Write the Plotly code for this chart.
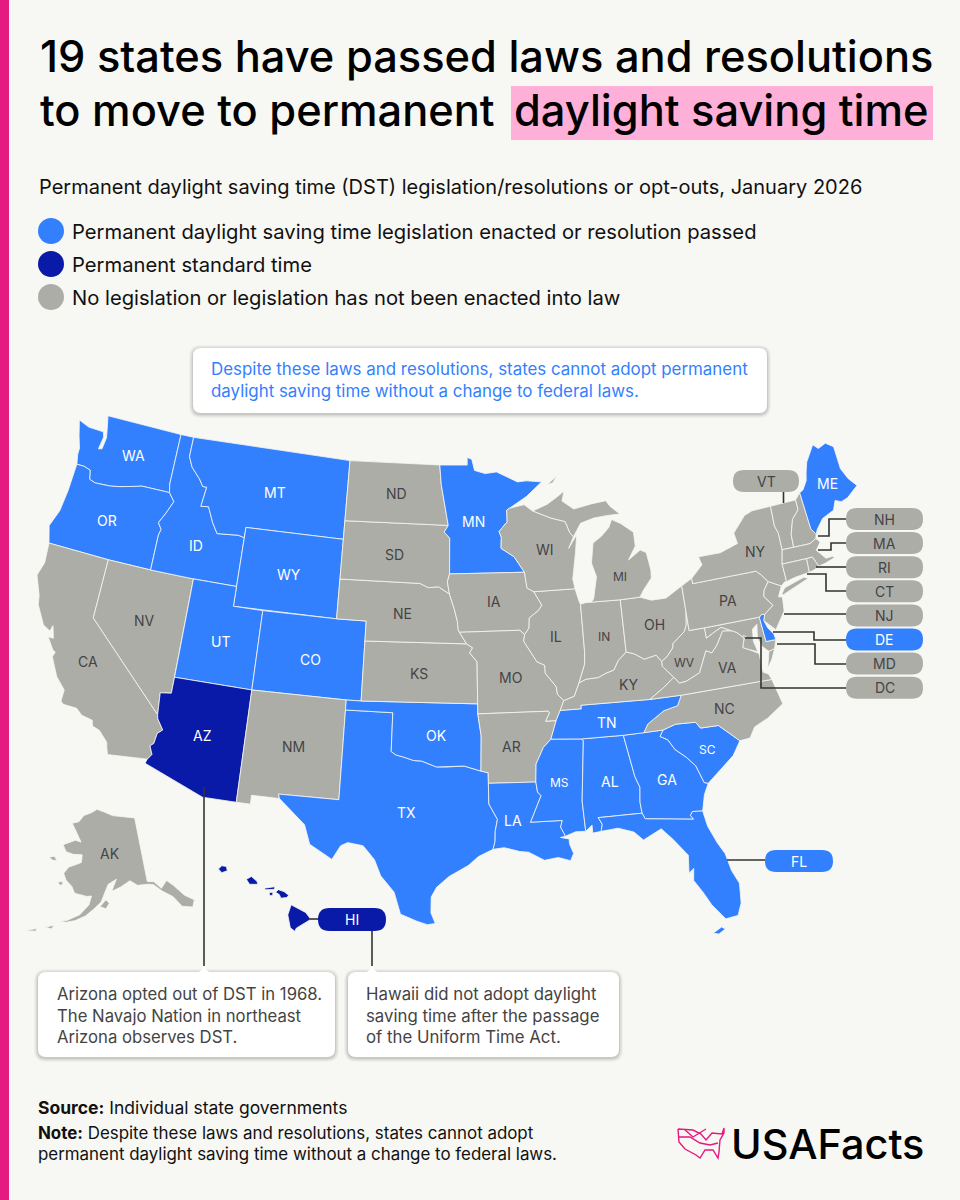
import math
import plotly.graph_objects as go

BG = "#f7f7f3"
BLUE = "#3380ff"
NAVY = "#0a1aa8"
GREY = "#adada8"
INK = "#444444"
FONT = "Inter"

TITLE_1 = "19 states have passed laws and resolutions"
TITLE_2 = "to move to permanent"
TITLE_3 = "daylight saving time"
SUBTITLE = "Permanent daylight saving time (DST) legislation/resolutions or opt-outs, January 2026"
LEGEND = [
    "Permanent daylight saving time legislation enacted or resolution passed",
    "Permanent standard time",
    "No legislation or legislation has not been enacted into law",
]
TOP_NOTE = [
    "Despite these laws and resolutions, states cannot adopt permanent",
    "daylight saving time without a change to federal laws.",
]
AZ_NOTE = ["Arizona opted out of DST in 1968.", "The Navajo Nation in northeast", "Arizona observes DST."]
HI_NOTE = ["Hawaii did not adopt daylight", "saving time after the passage", "of the Uniform Time Act."]
SOURCE = "<b>Source:</b> Individual state governments"
NOTE = [
    "<b>Note:</b> Despite these laws and resolutions, states cannot adopt",
    "permanent daylight saving time without a change to federal laws.",
]

DST_STATES = ["WA", "OR", "ID", "MT", "WY", "UT", "CO", "MN", "TX", "OK", "TN", "LA", "MS", "AL", "GA", "SC", "FL", "ME", "DE"]
STANDARD_STATES = ["AZ", "HI"]

# state outlines, lon/lat read by eye
STATES = {
    "WA": [[(-117.03,49),(-117.04,46.42),(-116.92,46.0),(-118.98,46.0),(-119.3,45.93),(-120.5,45.7),(-121.2,45.6),(-122.3,45.55),(-122.75,45.65),(-122.9,46.1),(-123.4,46.2),(-123.95,46.2),(-124.1,46.7),(-124.1,47.0),(-124.4,47.6),(-124.73,48.38),(-123.9,48.17),(-123.1,48.15),(-122.75,48.15),(-122.62,47.9),(-122.75,47.25),(-122.5,47.3),(-122.4,47.9),(-122.55,48.4),(-122.75,49)]],
    "OR": [[(-124.21,42),(-120,42),(-117.03,42),(-117.03,43.8),(-116.93,44.1),(-117.22,44.4),(-116.85,44.95),(-116.47,45.6),(-116.92,46.0),(-118.98,46.0),(-119.3,45.93),(-120.5,45.7),(-121.2,45.6),(-122.3,45.55),(-122.75,45.65),(-122.9,46.1),(-123.4,46.2),(-123.95,46.2),(-124.0,44.8),(-124.15,43.7),(-124.55,42.84)]],
    "CA": [[(-124.21,42),(-120,42),(-120,39),(-114.63,35.0),(-114.57,34.8),(-114.14,34.3),(-114.43,34.08),(-114.52,33.55),(-114.72,33.4),(-114.5,33.0),(-114.72,32.72),(-117.12,32.53),(-117.25,32.85),(-117.33,33.12),(-117.93,33.62),(-118.4,33.75),(-118.5,34.03),(-119.2,34.15),(-119.6,34.42),(-120.47,34.45),(-120.65,34.58),(-120.63,35.15),(-121.3,35.7),(-121.9,36.6),(-121.8,36.85),(-122.0,36.95),(-122.5,37.5),(-122.15,37.5),(-122.4,38.1),(-122.5,37.8),(-123.0,38.0),(-123.7,38.9),(-123.82,39.35),(-124.35,40.3),(-124.1,41.0)]],
    "NV": [[(-120,42),(-117.03,42),(-114.04,42),(-114.04,37),(-114.05,36.19),(-114.74,36.1),(-114.63,35.0),(-120,39)]],
    "ID": [[(-117.03,49),(-116.05,49),(-116.05,48.0),(-115.7,47.5),(-115.0,47.0),(-114.65,46.65),(-114.35,46.65),(-114.5,45.65),(-113.95,45.7),(-113.45,44.95),(-113.0,44.45),(-111.5,44.55),(-111.05,44.48),(-111.05,42),(-114.04,42),(-117.03,42),(-117.03,43.8),(-116.93,44.1),(-117.22,44.4),(-116.85,44.95),(-116.47,45.6),(-116.92,46.0),(-117.04,46.42)]],
    "MT": [[(-116.05,49),(-104.05,49),(-104.05,45.94),(-104.05,45),(-111.05,45),(-111.05,44.48),(-111.5,44.55),(-113.0,44.45),(-113.45,44.95),(-113.95,45.7),(-114.5,45.65),(-114.35,46.65),(-114.65,46.65),(-115.0,47.0),(-115.7,47.5),(-116.05,48.0)]],
    "WY": [[(-111.05,45),(-104.05,45),(-104.05,43),(-104.05,41),(-111.05,41),(-111.05,42),(-111.05,44.48)]],
    "UT": [[(-114.04,42),(-111.05,42),(-111.05,41),(-109.05,41),(-109.05,37),(-114.04,37)]],
    "CO": [[(-109.05,41),(-104.05,41),(-102.05,41),(-102.05,40),(-102.05,37),(-103,37),(-109.05,37)]],
    "AZ": [[(-114.04,37),(-109.05,37),(-109.05,31.33),(-111.07,31.33),(-114.81,32.5),(-114.72,32.72),(-114.5,33.0),(-114.72,33.4),(-114.52,33.55),(-114.43,34.08),(-114.14,34.3),(-114.57,34.8),(-114.63,35.0),(-114.74,36.1),(-114.05,36.19)]],
    "NM": [[(-109.05,37),(-103,37),(-103,36.5),(-103,32),(-106.62,32),(-106.53,31.78),(-108.21,31.78),(-108.21,31.33),(-109.05,31.33)]],
    "TX": [[(-103,36.5),(-100,36.5),(-100,34.56),(-99.7,34.4),(-99.2,34.3),(-98.6,34.15),(-98.1,34.13),(-97.2,33.85),(-96.6,33.85),(-95.5,33.9),(-94.48,33.64),(-94.04,33.55),(-94.04,33.02),(-94.04,31.99),(-93.55,31.2),(-93.7,30.6),(-93.72,30.1),(-93.85,29.7),(-94.7,29.35),(-95.3,28.9),(-96.4,28.35),(-97.1,27.8),(-97.4,27.3),(-97.4,26.5),(-97.15,25.96),(-97.6,25.9),(-98.2,26.07),(-99.1,26.4),(-99.5,27.5),(-100.3,28.3),(-100.7,29.1),(-101.4,29.77),(-102.3,29.88),(-102.7,29.7),(-103.15,28.98),(-104.5,29.65),(-104.9,30.6),(-106.53,31.78),(-106.62,32),(-103,32)]],
    "OK": [[(-103,37),(-102.05,37),(-94.62,37),(-94.62,36.5),(-94.43,35.4),(-94.48,33.64),(-95.5,33.9),(-96.6,33.85),(-97.2,33.85),(-98.1,34.13),(-98.6,34.15),(-99.2,34.3),(-99.7,34.4),(-100,34.56),(-100,36.5),(-103,36.5)]],
    "KS": [[(-102.05,40),(-95.3,40),(-94.9,39.8),(-95.1,39.55),(-94.62,39.1),(-94.62,37),(-102.05,37)]],
    "NE": [[(-104.05,43),(-98.5,43),(-97.9,42.8),(-97.2,42.85),(-96.45,42.49),(-96.1,41.7),(-95.9,41.1),(-95.85,40.7),(-95.77,40.58),(-95.3,40),(-102.05,40),(-102.05,41),(-104.05,41)]],
    "SD": [[(-104.05,45.94),(-96.56,45.94),(-96.85,45.6),(-96.45,45.3),(-96.45,43.5),(-96.6,43.1),(-96.45,42.49),(-97.2,42.85),(-97.9,42.8),(-98.5,43),(-104.05,43),(-104.05,45)]],
    "ND": [[(-104.05,49),(-97.23,49),(-97.1,48),(-96.56,45.94),(-104.05,45.94)]],
    "MN": [[(-97.23,49),(-95.15,49),(-95.15,49.38),(-94.8,49.3),(-94.6,48.72),(-93.8,48.55),(-92.95,48.62),(-92,48.3),(-91.4,48.07),(-90.75,48.1),(-89.6,48.0),(-90.8,47.3),(-92.1,46.75),(-92.29,46.66),(-92.29,46.07),(-92.9,45.6),(-92.75,45.3),(-92.8,44.75),(-91.9,44.3),(-91.22,43.5),(-96.45,43.5),(-96.45,45.3),(-96.85,45.6),(-96.56,45.94),(-97.1,48)]],
    "IA": [[(-96.45,43.5),(-91.22,43.5),(-91.1,42.7),(-90.64,42.5),(-90.15,41.8),(-90.4,41.55),(-91.05,41.2),(-91.1,40.7),(-91.42,40.38),(-91.73,40.61),(-95.77,40.58),(-95.85,40.7),(-95.9,41.1),(-96.1,41.7),(-96.45,42.49),(-96.6,43.1)]],
    "MO": [[(-95.77,40.58),(-91.73,40.61),(-91.42,40.38),(-91.5,40.05),(-90.7,39.0),(-90.2,38.8),(-90.2,38.4),(-89.55,37.7),(-89.5,37.3),(-89.13,36.98),(-89.4,36.5),(-89.7,36),(-90.37,36),(-90.1,36.4),(-90.15,36.5),(-94.62,36.5),(-94.62,37),(-94.62,39.1),(-95.1,39.55),(-94.9,39.8),(-95.3,40)]],
    "AR": [[(-94.62,36.5),(-90.15,36.5),(-90.1,36.4),(-90.37,36),(-89.7,36),(-90.1,35.1),(-90.6,34.7),(-91.1,33.9),(-91.17,33),(-94.04,33.02),(-94.04,33.55),(-94.48,33.64),(-94.43,35.4)]],
    "LA": [[(-94.04,33.02),(-91.17,33),(-91.1,32.5),(-90.9,32.3),(-91.6,31.0),(-89.73,31),(-89.85,30.67),(-89.6,30.2),(-89.9,30.15),(-89.4,30.05),(-89.4,29.8),(-89.2,29.3),(-89.4,28.95),(-90.1,29.15),(-90.9,29.05),(-91.8,29.5),(-92.3,29.55),(-93.2,29.77),(-93.85,29.7),(-93.72,30.1),(-93.7,30.6),(-93.55,31.2),(-94.04,31.99)]],
    "MS": [[(-90.1,35.1),(-88.2,35),(-88.1,34.9),(-88.47,31.9),(-88.4,30.37),(-89.0,30.38),(-89.6,30.2),(-89.85,30.67),(-89.73,31),(-91.6,31.0),(-90.9,32.3),(-91.1,32.5),(-91.17,33),(-91.1,33.9),(-90.6,34.7)]],
    "AL": [[(-88.2,35),(-85.6,34.98),(-85.18,32.87),(-84.95,32.3),(-85.05,31.55),(-85,31),(-87.6,31),(-87.4,30.65),(-87.5,30.3),(-88,30.25),(-88.0,30.65),(-88.4,30.37),(-88.47,31.9),(-88.1,34.9)]],
    "GA": [[(-85.6,34.98),(-84.32,34.99),(-83.11,35),(-83.35,34.7),(-82.9,34.48),(-82.55,33.95),(-81.95,33.5),(-81.45,33),(-81.1,32.1),(-80.87,32.03),(-81.2,31.5),(-81.45,30.7),(-82.05,30.75),(-82.2,30.57),(-82.05,30.36),(-84.86,30.7),(-85,31),(-85.05,31.55),(-84.95,32.3),(-85.18,32.87)]],
    "FL": [[(-87.6,31),(-85,31),(-84.86,30.7),(-82.05,30.36),(-82.2,30.57),(-82.05,30.75),(-81.45,30.7),(-81.3,29.9),(-80.9,29),(-80.55,28.4),(-80.35,27.5),(-80.03,26.8),(-80.12,25.8),(-80.4,25.2),(-81.1,25.13),(-81.75,25.95),(-82.1,26.6),(-82.55,27.3),(-82.45,27.9),(-82.75,27.7),(-82.65,28.6),(-83.4,29.5),(-84,30.1),(-85.1,29.65),(-85.6,30.1),(-86.5,30.38),(-87.5,30.3),(-87.4,30.65)],
           [(-81.9,24.5),(-81.4,24.75),(-81.2,24.62),(-81.6,24.42)]],
    "SC": [[(-83.11,35),(-82.3,35.2),(-81.05,35.15),(-80.8,34.82),(-79.68,34.8),(-78.55,33.86),(-79.1,33.2),(-79.9,32.7),(-80.87,32.03),(-81.1,32.1),(-81.45,33),(-81.95,33.5),(-82.55,33.95),(-82.9,34.48),(-83.35,34.7)]],
    "NC": [[(-84.32,34.99),(-83.11,35),(-82.3,35.2),(-81.05,35.15),(-80.8,34.82),(-79.68,34.8),(-78.55,33.86),(-77.9,33.9),(-77.5,34.4),(-76.6,34.7),(-75.5,35.25),(-75.85,36.55),(-81.68,36.59),(-82.0,36.1),(-82.9,35.95),(-84.0,35.4)]],
    "TN": [[(-90.1,35.1),(-89.7,36),(-89.4,36.5),(-88.07,36.5),(-88.07,36.68),(-83.68,36.6),(-81.68,36.59),(-82.0,36.1),(-82.9,35.95),(-84.0,35.4),(-84.32,34.99),(-85.6,34.98),(-88.2,35)]],
    "KY": [[(-89.4,36.5),(-89.13,36.98),(-88.45,37.15),(-88.07,37.8),(-87.6,37.95),(-86.8,37.98),(-86.3,38.15),(-85.75,38.27),(-85.4,38.72),(-84.82,39.1),(-84.3,38.95),(-83.7,38.63),(-82.9,38.75),(-82.6,38.4),(-82.6,38.15),(-81.97,37.53),(-82.7,37.1),(-83.68,36.6),(-88.07,36.68),(-88.07,36.5)]],
    "IL": [[(-90.64,42.5),(-87.8,42.5),(-87.6,41.85),(-87.52,41.7),(-87.53,39.35),(-87.6,38.7),(-88.07,37.8),(-88.45,37.15),(-89.13,36.98),(-89.5,37.3),(-89.55,37.7),(-90.2,38.4),(-90.2,38.8),(-90.7,39.0),(-91.5,40.05),(-91.42,40.38),(-91.1,40.7),(-91.05,41.2),(-90.4,41.55),(-90.15,41.8)]],
    "IN": [[(-87.52,41.7),(-87.2,41.76),(-86.8,41.76),(-84.8,41.72),(-84.82,39.1),(-85.4,38.72),(-85.75,38.27),(-86.3,38.15),(-86.8,37.98),(-87.6,37.95),(-88.07,37.8),(-87.6,38.7),(-87.53,39.35)]],
    "OH": [[(-84.8,41.72),(-83.45,41.73),(-82.7,41.5),(-81.7,41.5),(-80.52,41.98),(-80.52,40.64),(-80.65,40.0),(-80.85,39.7),(-81.7,39.2),(-81.75,39.0),(-82.2,38.6),(-82.6,38.4),(-82.9,38.75),(-83.7,38.63),(-84.3,38.95),(-84.82,39.1)]],
    "WV": [[(-82.6,38.4),(-82.2,38.6),(-81.75,39.0),(-81.7,39.2),(-80.85,39.7),(-80.65,40.0),(-80.52,40.64),(-80.52,39.72),(-79.48,39.72),(-79.48,39.2),(-78.9,39.43),(-78.4,39.6),(-77.72,39.32),(-78.35,39.4),(-78.87,38.77),(-79.3,38.42),(-79.65,38.58),(-80.3,37.55),(-81.22,37.24),(-81.68,37.2),(-81.97,37.53),(-82.6,38.15)]],
    "VA": [[(-83.68,36.6),(-82.7,37.1),(-81.97,37.53),(-81.68,37.2),(-81.22,37.24),(-80.3,37.55),(-79.65,38.58),(-79.3,38.42),(-78.87,38.77),(-78.35,39.4),(-77.72,39.32),(-77.45,39.2),(-77.04,38.85),(-77.25,38.4),(-76.95,38.27),(-76.3,37.95),(-76.3,37.5),(-76.3,37.0),(-75.98,36.85),(-75.85,36.55),(-81.68,36.59)],
           [(-75.95,37.15),(-75.65,37.95),(-75.25,38.03),(-75.6,37.5)]],
    "MD": [[(-79.48,39.72),(-75.79,39.72),(-75.7,38.46),(-75.05,38.45),(-75.25,38.03),(-75.65,37.95),(-76.0,38.25),(-76.2,38.7),(-76.05,39.4),(-76.4,39.2),(-76.5,38.6),(-76.35,38.05),(-76.95,38.27),(-77.25,38.4),(-77.04,38.85),(-77.45,39.2),(-77.72,39.32),(-78.4,39.6),(-78.9,39.43),(-79.48,39.2)]],
    "DE": [[(-75.79,39.72),(-75.6,39.83),(-75.4,39.8),(-75.55,39.5),(-75.4,39.1),(-75.1,38.75),(-75.05,38.45),(-75.7,38.46)]],
    "DC": [[(-77.12,38.93),(-77.04,39.0),(-76.91,38.89),(-77.04,38.79)]],
    "PA": [[(-80.52,41.98),(-80.08,42.15),(-79.76,42.27),(-79.76,42),(-75.35,42),(-75.05,41.75),(-74.7,41.36),(-75.1,40.97),(-75.2,40.68),(-74.73,40.15),(-75.4,39.8),(-75.6,39.83),(-75.79,39.72),(-79.48,39.72),(-80.52,39.72),(-80.52,40.64)]],
    "NJ": [[(-74.7,41.36),(-73.9,41.0),(-74.25,40.5),(-74.0,40.45),(-74.1,39.75),(-74.9,38.93),(-75.55,39.5),(-75.4,39.8),(-74.73,40.15),(-75.2,40.68),(-75.1,40.97)]],
    "NY": [[(-79.76,42),(-79.76,42.27),(-78.9,42.85),(-79.05,43.27),(-77.5,43.27),(-76.5,43.5),(-76.2,43.55),(-76.3,44.1),(-75.3,44.85),(-74.7,45.0),(-73.34,45.01),(-73.4,44.0),(-73.25,43.6),(-73.27,42.75),(-73.5,42.05),(-73.49,41.2),(-73.73,41.1),(-73.9,41.0),(-74.7,41.36),(-75.05,41.75),(-75.35,42)],
           [(-74.0,40.6),(-73.7,40.87),(-72.3,41.15),(-72.0,41.05),(-73.9,40.55)]],
    "VT": [[(-73.34,45.01),(-71.5,45.01),(-71.5,44.5),(-72.05,44.1),(-72.4,43.4),(-72.46,42.73),(-73.27,42.75),(-73.25,43.6),(-73.4,44.0)]],
    "NH": [[(-71.5,45.01),(-71.08,45.3),(-70.98,43.4),(-70.72,43.08),(-70.82,42.87),(-71.3,42.7),(-72.46,42.73),(-72.4,43.4),(-72.05,44.1),(-71.5,44.5)]],
    "ME": [[(-71.08,45.3),(-70.8,45.4),(-70.4,45.8),(-70.25,46.2),(-70.0,46.7),(-69.23,47.46),(-68.9,47.2),(-68.3,47.36),(-67.79,47.07),(-67.78,45.9),(-67.45,45.3),(-67.0,44.85),(-67.9,44.4),(-68.4,44.3),(-68.8,44.45),(-69.1,44.0),(-70.0,43.75),(-70.55,43.3),(-70.72,43.08),(-70.98,43.4)]],
    "MA": [[(-73.5,42.05),(-73.27,42.75),(-72.46,42.73),(-71.3,42.7),(-70.82,42.87),(-70.6,42.65),(-71.0,42.3),(-70.65,41.95),(-70.5,41.78),(-70.0,41.8),(-70.2,42.07),(-69.95,41.7),(-70.65,41.55),(-71.12,41.5),(-71.38,42.02),(-71.8,42.02)]],
    "RI": [[(-71.8,42.02),(-71.38,42.02),(-71.12,41.5),(-71.5,41.37),(-71.85,41.32)]],
    "CT": [[(-73.5,42.05),(-71.8,42.02),(-71.85,41.32),(-72.9,41.25),(-73.73,41.1),(-73.49,41.2)]],
    "MI": [[(-86.8,41.76),(-84.8,41.72),(-83.45,41.73),(-83.15,42.05),(-82.5,42.6),(-82.45,43.0),(-82.6,43.9),(-83.0,44.07),(-83.9,43.65),(-83.3,44.3),(-83.3,45.0),(-84.1,45.5),(-84.75,45.78),(-85.0,45.4),(-85.6,45.0),(-86.25,44.7),(-86.5,43.7),(-86.25,43.0),(-86.6,41.9)],
           [(-90.4,46.55),(-89.1,46.13),(-88.1,45.9),(-87.85,45.35),(-87.6,45.1),(-87.0,45.75),(-86.0,45.95),(-85.0,46.0),(-84.1,46.0),(-84.75,46.45),(-85.0,46.75),(-86.1,46.67),(-87.4,46.5),(-88.2,46.95),(-88.0,47.45),(-88.5,47.2),(-89.3,46.85)],
           [(-89.2,47.85),(-88.4,48.25),(-88.8,47.9)]],
    "WI": [[(-92.29,46.66),(-92.1,46.75),(-91,46.9),(-90.4,46.55),(-89.1,46.13),(-88.1,45.9),(-87.85,45.35),(-87.6,45.1),(-88.0,44.55),(-87.35,45.2),(-87.55,44.3),(-87.9,43.0),(-87.8,42.5),(-90.64,42.5),(-91.1,42.7),(-91.22,43.5),(-91.9,44.3),(-92.8,44.75),(-92.75,45.3),(-92.9,45.6),(-92.29,46.07)]],
}

ALASKA = [
    [(-141,69.65),(-145,70),(-150,70.4),(-153,70.9),(-156.6,71.35),(-159,70.8),(-162,70.3),(-163.7,69.3),(-166.2,68.9),(-164.5,68.0),(-163,67.1),(-161.9,66.4),(-164,66.55),(-166,66.1),(-168,65.6),(-166.5,64.7),(-164,64.5),(-161,64.6),(-161,63.5),(-163,63),(-164.8,62.6),(-166,61.6),(-165,60.7),(-163,59.9),(-162,59.0),(-158.5,58.7),(-157.2,58.8),(-157.8,57.5),(-160,56),(-163,55),(-164.8,54.7),(-163.2,54.7),(-161,55.1),(-158.5,55.9),(-156.5,56.9),(-154.5,58),(-153.8,59),(-152.5,60.5),(-150,61.2),(-151.5,59.5),(-149,60),(-146,60.8),(-144,60),(-141,59.9),(-139.5,59.7),(-137.5,58.5),(-135,57.3),(-133.5,55.6),(-131,55),(-130,55.9),(-132,57),(-134,58.8),(-135.5,59.8),(-137.5,58.9),(-139.2,60.1),(-141,60.3)],
    [(-154.8,57.3),(-153.2,57.0),(-152.3,57.8),(-153.2,58.3)],
    [(-171.5,63.4),(-170,63.7),(-168.8,63.2),(-170.3,63.1)],
    [(-167.2,60.2),(-166,60.4),(-165.6,60),(-166.5,59.8)],
    [(-168,53.5),(-166,54),(-166.5,53.4)],
    [(-172.5,52.3),(-170,53),(-170,52.6)],
]
HAWAII = [
    [(-159.78,22.07),(-159.6,22.23),(-159.35,22.2),(-159.3,21.98),(-159.6,21.88)],
    [(-158.27,21.55),(-158.0,21.7),(-157.7,21.45),(-157.65,21.3),(-158.1,21.3)],
    [(-157.3,21.1),(-156.75,21.18),(-156.75,21.05),(-157.25,21.02)],
    [(-157.05,20.88),(-156.85,20.9),(-156.85,20.75),(-157.0,20.72)],
    [(-156.7,20.9),(-156.55,21.03),(-156.25,20.93),(-156.0,20.75),(-156.1,20.63),(-156.42,20.6),(-156.5,20.78)],
    [(-155.87,20.26),(-155.6,20.13),(-155.1,19.87),(-154.82,19.52),(-155.6,19.08),(-155.68,18.92),(-155.92,19.1),(-156.05,19.75)],
]


def albers(points, lon0, lat0, p1, p2, scale, x0, y0):
    a, b = math.radians(p1), math.radians(p2)
    n = (math.sin(a) + math.sin(b)) / 2
    c = math.cos(a) ** 2 + 2 * n * math.sin(a)
    rho0 = math.sqrt(c - 2 * n * math.sin(math.radians(lat0))) / n
    xs, ys = [], []
    for lon, lat in points:
        rho = math.sqrt(c - 2 * n * math.sin(math.radians(lat))) / n
        th = n * math.radians(lon - lon0)
        xs.append(x0 + scale * rho * math.sin(th))
        ys.append(y0 - scale * (rho0 - rho * math.cos(th)))
    return xs, ys


def outline(code):
    xs, ys = [], []
    if code == "AK":
        parts, args = ALASKA, (-154, 62, 55, 65, 398, 103, 874)
    elif code == "HI":
        parts, args = HAWAII, (-157, 20, 8, 18, 1137, 270, 910)
    else:
        parts, args = STATES[code], (-96, 37.5, 29.5, 45.5, 1137, 456, 694)
    for part in parts:
        px, py = albers(part + [part[0]], *args)
        xs += px + [None]
        ys += py + [None]
    return xs, ys


def state_colour(code):
    if code in DST_STATES:
        return BLUE
    if code in STANDARD_STATES:
        return NAVY
    return GREY


fig = go.Figure()

for code in list(STATES) + ["AK", "HI"]:
    xs, ys = outline(code)
    fig.add_trace(go.Scatter(x=xs, y=ys, mode="lines", fill="toself", fillcolor=state_colour(code),
                             line=dict(color=BG, width=0.8), name=code, hoverinfo="name", showlegend=False))

# state labels on the map
label_pos = {
    "WA": (133,455), "OR": (107,520), "CA": (88,661), "NV": (144,620), "ID": (196,545), "MT": (275,492),
    "WY": (289,574), "UT": (220,641), "AZ": (202,735), "CO": (310,659), "NM": (293,746), "ND": (396,493),
    "SD": (394,554), "NE": (402,613), "KS": (419,673), "OK": (436,735), "TX": (406,812), "MN": (473,521),
    "IA": (494,601), "MO": (510,677), "AR": (511,746), "LA": (513,820), "WI": (545,549), "IL": (556,636),
    "MI": (620,576), "IN": (604,636), "OH": (654,624), "KY": (628,684), "TN": (607,722), "MS": (559,782),
    "AL": (610,781), "GA": (667,779), "SC": (707,749), "NC": (724,708), "VA": (727,667), "WV": (684,662),
    "PA": (728,600), "NY": (755,551), "ME": (827,483), "AK": (110,853),
}
small_labels = ["MS", "SC", "WV", "IN", "MI"]
for code, (px, py) in label_pos.items():
    colour = "white" if state_colour(code) != GREY else INK
    size = 12 if code in small_labels else 14
    fig.add_annotation(x=px, y=py, text=code, showarrow=False, font=dict(family=FONT, size=size, color=colour))

shapes = []


def rounded(x0, y0, x1, y1, r):
    return (f"M{x0+r},{y0} L{x1-r},{y0} Q{x1},{y0} {x1},{y0+r} L{x1},{y1-r} Q{x1},{y1} {x1-r},{y1} "
            f"L{x0+r},{y1} Q{x0},{y1} {x0},{y1-r} L{x0},{y0+r} Q{x0},{y0} {x0+r},{y0} Z")


def add_pill(x0, y0, x1, y1, label, fill, text_colour):
    shapes.append(dict(type="path", path=rounded(x0, y0, x1, y1, (y1 - y0) / 2), fillcolor=fill, line_width=0, layer="above"))
    fig.add_annotation(x=(x0 + x1) / 2, y=(y0 + y1) / 2, text=label, showarrow=False,
                       font=dict(family=FONT, size=14, color=text_colour))


def add_leader(points):
    path = "M" + " L".join(f"{x},{y}" for x, y in points)
    shapes.append(dict(type="path", path=path, line=dict(color="#333333", width=1.6), layer="above"))


def add_card(x0, y0, x1, y1, tab_x=None):
    for grow, alpha in [(4, 0.03), (3, 0.04), (2, 0.05), (1, 0.07)]:
        shapes.append(dict(type="path", path=rounded(x0 - grow, y0 - grow + 1, x1 + grow, y1 + grow + 1, 8 + grow),
                           fillcolor=f"rgba(0,0,0,{alpha})", line_width=0, layer="above"))
    shapes.append(dict(type="path", path=rounded(x0, y0, x1, y1, 8), fillcolor="white", line_width=0, layer="above"))
    if tab_x is not None:
        shapes.append(dict(type="path", path=f"M{tab_x-8},{y0+1} Q{tab_x-3},{y0} {tab_x},{y0-6} Q{tab_x+3},{y0} {tab_x+8},{y0+1} Z",
                           fillcolor="white", line_width=0, layer="above"))


def add_text(x, y, text, size, colour="black", weight=None):
    # annotations carry 2px of padding, taken off here
    fig.add_annotation(x=x - 2, y=y, text=text, showarrow=False, xanchor="left", yanchor="middle",
                       font=dict(family=FONT, size=size, color=colour, weight=weight))


# side strip and title highlight
shapes.append(dict(type="rect", x0=0, x1=9, y0=0, y1=1200, fillcolor="#e61b80", line_width=0, layer="below"))
shapes.append(dict(type="rect", x0=511, x1=933, y0=86, y1=140, fillcolor="#ffb0d8", line_width=0, layer="below"))

add_text(40, 56, TITLE_1, 43.4, "black", 500)
add_text(40, 110, TITLE_2, 43.4, "black", 500)
add_text(514, 110, TITLE_3, 43.4, "black", 500)
add_text(39, 187, SUBTITLE, 20, "#111111")

for i, (text, colour) in enumerate(zip(LEGEND, [BLUE, NAVY, GREY])):
    y = 231 + 33 * i
    shapes.append(dict(type="circle", x0=38, x1=64, y0=y - 13, y1=y + 13, fillcolor=colour, line_width=0, layer="above"))
    add_text(72, y, text, 20.2, "#111111")

# leader lines
add_leader([(204, 787), (204, 966)])
add_leader([(372, 931), (372, 966)])
add_leader([(310, 919), (319, 919)])
add_leader([(727, 860), (765, 860)])
add_leader([(783.5, 492), (783.5, 503)])
add_leader([(846, 519), (829, 519), (829, 536), (818, 536)])
add_leader([(846, 543), (831, 543), (831, 550), (818, 550)])
add_leader([(846, 567), (816, 567)])
add_leader([(846, 591), (826, 591), (826, 574), (807, 574)])
add_leader([(846, 614), (784, 614)])
add_leader([(846, 640), (814, 640), (814, 632), (773, 632)])
add_leader([(846, 664), (815, 664), (815, 644), (777, 644)])
add_leader([(846, 688), (761, 688), (761, 638), (745, 638)])

add_pill(733, 470, 799, 492, "VT", GREY, INK)
for i, code in enumerate(["NH", "MA", "RI", "CT", "NJ", "DE", "MD", "DC"]):
    y0 = 508 + 24.1 * i
    fill = BLUE if code == "DE" else GREY
    add_pill(846, y0, 923, y0 + 22, code, fill, "white" if code == "DE" else INK)
add_pill(765, 850, 833, 872, "FL", BLUE, "white")
add_pill(318, 908, 386, 931, "HI", NAVY, "white")

# callouts
add_card(193, 348, 767, 413)
add_card(38, 972, 335, 1057, tab_x=204)
add_card(348, 972, 619, 1057, tab_x=372)
for i, line in enumerate(TOP_NOTE):
    add_text(211, 369 + 22 * i, line, 16.9, BLUE)
for i, line in enumerate(AZ_NOTE):
    add_text(57, 994 + 21.5 * i, line, 16.7, INK)
for i, line in enumerate(HI_NOTE):
    add_text(366, 994 + 21.5 * i, line, 16.8, INK)

add_text(38, 1107, SOURCE, 17.5, "#111111")
for i, line in enumerate(NOTE):
    add_text(38, 1133 + 21 * i, line, 16.9, "#111111")

# logo
add_text(731, 1144, "USAFacts", 41.4, "black", 500)
logo_outline = [(678,1129),(693,1130),(701,1134),(706,1140),(712,1133),(722,1134),(724,1128),(724,1133),(720,1140),(719,1152),(718,1158),(713,1150),(705,1150),(700,1158),(696,1155),(685,1149),(679,1142)]
logo_wave = [(678,1137),(690,1137),(700,1143),(710,1145),(718,1143)]
logo_wave2 = [(685,1130),(693,1137),(706,1129)]
for pts in [logo_outline + logo_outline[:1], logo_wave, logo_wave2]:
    shapes.append(dict(type="path", path="M" + " L".join(f"{x},{y}" for x, y in pts),
                       line=dict(color="#e6197f", width=1.4), layer="above"))

fig.update_layout(
    width=960, height=1200, margin=dict(l=0, r=0, t=0, b=0),
    paper_bgcolor=BG, plot_bgcolor=BG, showlegend=False, shapes=shapes,
    xaxis=dict(range=[0, 960], visible=False, fixedrange=True),
    yaxis=dict(range=[1200, 0], visible=False, fixedrange=True),
)
fig.write_html("out.html", config={"displayModeBar": False}, post_script="document.body.style.margin='0';")
